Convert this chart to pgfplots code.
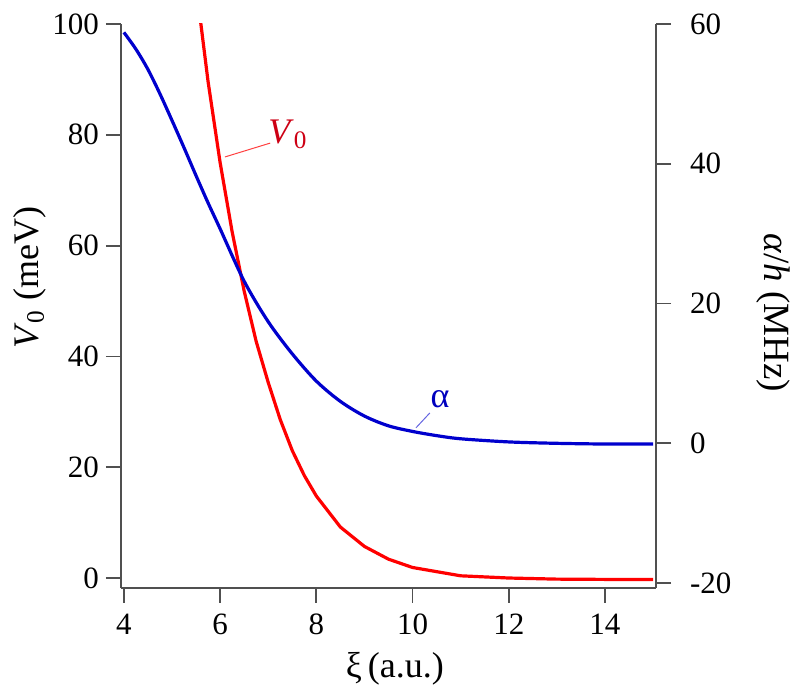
\documentclass[border=0pt]{standalone}
\usepackage{fontspec}
\setmainfont{Liberation Serif}
\usepackage{pgfplots}
\usepackage{pgfplotstable}
\pgfplotsset{compat=1.18}
\definecolor{redc}{RGB}{255,0,0}
\definecolor{bluec}{RGB}{0,0,205}
\definecolor{axc}{RGB}{80,80,80}
\definecolor{redtxt}{RGB}{205,0,20}
\definecolor{bluetxt}{RGB}{0,0,190}

\pgfplotstableread{
x v
5.5 107
5.75 89.6
6 75
6.25 62.5
6.5 51.8
6.75 42.7
7 35.3
7.25 28.6
7.5 23
7.75 18.5
8 14.8
8.5 9.2
9 5.7
9.5 3.4
10 1.9
11 0.4
12 0.0
13 -0.2
14 -0.25
15 -0.25
}\redtable

\pgfplotstableread{
x a
4 58.8
4.25 56.4
4.5 53.5
4.75 50.0
5 46.2
5.25 42.3
5.5 38.3
5.75 34.4
6 30.7
6.5 23.2
7 17.4
7.5 12.8
8 8.9
8.5 6.0
9 3.9
9.5 2.5
10 1.7
10.5 1.1
11 0.65
12 0.2
13 0.0
14 -0.1
15 -0.1
}\bluetable

\begin{document}
\begin{tikzpicture}
\pgfplotsset{
 every axis/.append style={
  width=267.5pt, height=282pt, scale only axis,
  xmin=3.94, xmax=15.06,
  tick align=outside, major tick length=7.5pt,
  axis line style={axc, line width=0.9pt},
  every tick/.style={axc, line width=0.9pt},
  tick label style={font=\fontsize{15.5}{18}\selectfont},
  label style={font=\fontsize{18}{21}\selectfont},
  /pgf/number format/assume math mode=true,
 }
}
\begin{axis}[
  axis x line*=bottom, axis y line*=left,
  ymin=-1.8, ymax=100,
  xtick={4,6,...,14}, ytick={0,20,...,100},
  xticklabel style={yshift=-2pt},
  xlabel={ξ\,(a.u.)},
  ylabel={\textit{V}\textsubscript{0} (meV)},
  xlabel style={at={(axis description cs:0.512,-0.158)}, anchor=base},
  ylabel style={at={(axis description cs:-0.17,0.55)}, anchor=center},
]
\addplot[redc, line width=1.6pt] table[x=x, y=v] {\redtable};
\draw[redc!75!white, line width=0.5pt] (axis cs:6.10,76) -- (axis cs:7.04,78.5);
\node[text=redtxt, font=\fontsize{18}{20}\selectfont, anchor=center] at (axis cs:7.41,80.1) {\textit{V}\textsubscript{0}};
\draw[bluec!60!white, line width=0.5pt] (axis cs:10.07,27.1) -- (axis cs:10.36,29.8);
\node[text=bluetxt, font=\fontsize{18}{20}\selectfont, anchor=center] at (axis cs:10.57,32.3) {α};
\end{axis}
\begin{axis}[
  axis x line=none, axis y line*=right,
  ymin=-20.7, ymax=60, ytick={-20,0,...,60},
  ylabel={\textit{α}/\textit{h} (MHz)},
  ylabel style={at={(axis description cs:1.219,0.488)}, anchor=center, rotate=180, font=\fontsize{18.5}{21}\selectfont},
  yticklabel style={xshift=6pt},
]
\addplot[bluec, line width=1.6pt, smooth] table[x=x, y=a] {\bluetable};
\end{axis}
\pgfresetboundingbox
\useasboundingbox (-60.5pt,-53.5pt) rectangle (339.5pt,294pt);
\end{tikzpicture}
\end{document}
